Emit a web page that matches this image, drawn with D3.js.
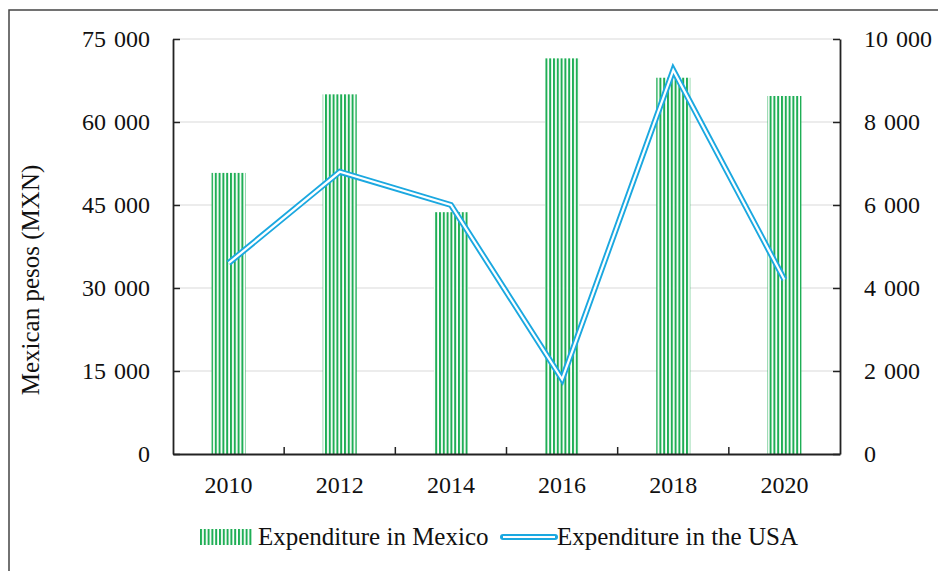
<!DOCTYPE html>
<html>
<head>
<meta charset="utf-8">
<script src="https://cdn.jsdelivr.net/npm/d3@7"></script>
<style>
  body { margin: 0; background: #fff; }
  svg text { font-family: "Liberation Serif", "DejaVu Serif", serif; fill: #111; }
</style>
</head>
<body>
<svg width="938" height="571"></svg>
<script>
// Data
const years = ["2010", "2012", "2014", "2016", "2018", "2020"];
const mexico = [50800, 65000, 43700, 71500, 68000, 64700];
const usa = [4600, 6800, 6000, 1800, 9250, 4200];
const leftTicks = [0, 15000, 30000, 45000, 60000, 75000];
const rightTicks = [0, 2000, 4000, 6000, 8000, 10000];

const svg = d3.select("svg"),
    margin = { top: 39, right: 98, bottom: 117, left: 173 },
    width = 938 - margin.left - margin.right,
    height = 571 - margin.top - margin.bottom,
    g = svg.append("g").attr("transform", `translate(${margin.left},${margin.top})`);

// thousands separated by a space
const fmt = v => d3.format(",")(v).replace(/,/g, "\u2004");

// outer frame (only top and left show)
svg.append("path").attr("d", "M9,571 V10 H938")
    .attr("fill", "none").attr("stroke", "#444").attr("stroke-width", 1.5);

// stripe pattern for bars
const pat = svg.append("defs").append("pattern")
    .attr("id", "stripes").attr("patternUnits", "userSpaceOnUse")
    .attr("width", 3.8).attr("height", 10);
pat.append("rect").attr("width", 3.8).attr("height", 10).attr("fill", "#fff");
pat.append("rect").attr("width", 2).attr("height", 10).attr("fill", "#1fae55");

const x = d3.scaleBand().domain(years).range([0, width]);
const yL = d3.scaleLinear().domain([0, 75000]).range([height, 0]);
const yR = d3.scaleLinear().domain([0, 10000]).range([height, 0]);

// gridlines
g.selectAll(".grid").data(leftTicks.slice(1)).join("line")
    .attr("x1", 0).attr("x2", width)
    .attr("y1", d => yL(d)).attr("y2", d => yL(d))
    .attr("stroke", "#d9d9d9").attr("stroke-width", 1.2);

// bars
const barW = 34;
g.selectAll(".bar").data(mexico).join("rect")
    .attr("x", (d, i) => x(years[i]) + x.bandwidth() / 2 - barW / 2)
    .attr("y", d => yL(d))
    .attr("width", barW)
    .attr("height", d => height - yL(d))
    .attr("fill", "url(#stripes)");

// line (double)
const line = d3.line()
    .x((d, i) => x(years[i]) + x.bandwidth() / 2)
    .y(d => yR(d));
g.append("path").datum(usa).attr("d", line)
    .attr("fill", "none").attr("stroke", "#1ba8e0").attr("stroke-width", 6);
g.append("path").datum(usa).attr("d", line)
    .attr("fill", "none").attr("stroke", "#fff").attr("stroke-width", 2.2);

// axes
const axL = g.append("g")
    .call(d3.axisLeft(yL).tickValues(leftTicks).tickFormat(fmt).tickSizeInner(-7).tickSizeOuter(0).tickPadding(23));
const axR = g.append("g").attr("transform", `translate(${width},0)`)
    .call(d3.axisRight(yR).tickValues(rightTicks).tickFormat(fmt).tickSizeInner(-7).tickSizeOuter(0).tickPadding(24));
const axB = g.append("g").attr("transform", `translate(0,${height})`)
    .call(d3.axisBottom(x).tickSize(0).tickPadding(22));
axB.selectAll(".tick text").attr("dy", "0.71em");
// category boundary ticks
g.selectAll(".btick").data(years.slice(1)).join("line")
    .attr("x1", d => x(d)).attr("x2", d => x(d))
    .attr("y1", height).attr("y2", height - 7)
    .attr("stroke", "#222").attr("stroke-width", 1.5);

[axL, axR, axB].forEach(a => {
    a.select(".domain").attr("stroke", "#222").attr("stroke-width", 1.8);
    a.selectAll(".tick line").attr("stroke", "#222").attr("stroke-width", 1.5);
    a.selectAll("text").attr("font-size", 24).attr("font-family", "Liberation Serif");
});
axR.selectAll("text").attr("text-anchor", "start");

// y title
svg.append("text")
    .attr("transform", "translate(39,280) rotate(-90)")
    .attr("text-anchor", "middle")
    .attr("font-size", 25)
    .text("Mexican pesos (MXN)");

// legend
const lg = svg.append("g").attr("transform", "translate(200,537)");
lg.append("rect").attr("x", 0).attr("y", -8).attr("width", 52).attr("height", 16).attr("fill", "url(#stripes)");
lg.append("text").attr("x", 58).attr("y", 8).attr("font-size", 25).text("Expenditure in Mexico");
lg.append("line").attr("x1", 303).attr("x2", 355).attr("y1", 0).attr("y2", 0)
    .attr("stroke", "#1ba8e0").attr("stroke-width", 6).attr("stroke-linecap", "round");
lg.append("line").attr("x1", 303).attr("x2", 355).attr("y1", 0).attr("y2", 0)
    .attr("stroke", "#fff").attr("stroke-width", 2.2);
lg.append("text").attr("x", 357).attr("y", 8).attr("font-size", 25).text("Expenditure in the USA");
</script>
</body>
</html>
